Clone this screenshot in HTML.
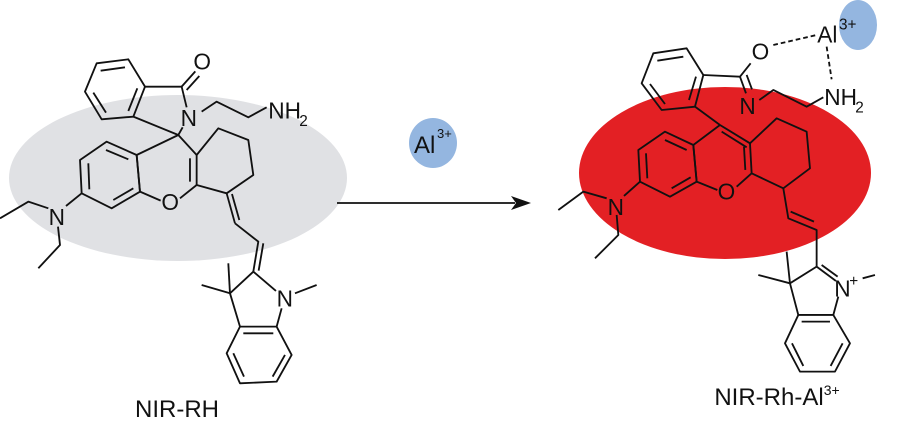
<!DOCTYPE html>
<html><head><meta charset="utf-8"><style>
html,body{margin:0;padding:0;background:#fff;width:900px;height:424px;overflow:hidden}
svg{display:block}
text{font-family:"Liberation Sans",Arial,sans-serif;fill:#111}
</style></head><body>
<svg width="900" height="424" viewBox="0 0 900 424" xmlns="http://www.w3.org/2000/svg">
<ellipse cx="178" cy="178" rx="169" ry="83" fill="#e0e1e4"/>
<ellipse cx="725" cy="173" rx="146" ry="86" fill="#e32024"/>
<ellipse cx="858" cy="25" rx="19" ry="25" fill="#94b6e0"/>
<ellipse cx="433" cy="143" rx="24" ry="25" fill="#94b6e0"/>
<text x="414" y="153" font-size="24">Al</text><text x="437" y="138" font-size="13">3+</text>
<line x1="337" y1="203" x2="515" y2="203" stroke="#111" stroke-width="1.8"/>
<polygon points="531,203 511,196 516,203 511,210" fill="#111"/>

<!-- LEFT -->
<g transform="translate(0,30) scale(0.3333)" fill="none" stroke="#111" stroke-width="5.5" stroke-linejoin="round">
<polygon points="290,100 385,88 435,170 400,260 305,268 255,185"/>
<line x1="302" y1="122" x2="375" y2="112"/><line x1="412" y1="175" x2="385" y2="243"/><line x1="280" y1="188" x2="318" y2="248"/>
<polyline points="435,170 545,170 560,232"/>
<line x1="545" y1="170" x2="586" y2="124"/><line x1="560" y1="180" x2="598" y2="138"/>
<polyline points="548,292 535,315 400,260"/>
<polyline points="605,245 650,215 745,262 800,232"/>
<polygon points="410,375 320,335 240,390 245,490 335,535 420,485"/>
<line x1="318" y1="360" x2="385" y2="388"/><line x1="265" y1="400" x2="268" y2="478"/><line x1="340" y1="510" x2="400" y2="475"/>
<line x1="410" y1="375" x2="420" y2="485"/>
<line x1="535" y1="315" x2="410" y2="375"/><line x1="535" y1="315" x2="590" y2="375"/>
<line x1="420" y1="485" x2="482" y2="512"/><line x1="540" y1="505" x2="590" y2="465"/>
<line x1="590" y1="375" x2="590" y2="465"/><line x1="570" y1="385" x2="570" y2="455"/>
<polyline points="590,375 655,295 745,330 760,435 680,490 590,465"/>
<line x1="680" y1="490" x2="705" y2="580"/><line x1="696" y1="492" x2="718" y2="570"/>
<polyline points="705,580 775,635 760,725"/><line x1="790" y1="640" x2="776" y2="722"/>
<polyline points="760,725 828,783"/><polyline points="760,725 690,790 720,890"/>
<line x1="690" y1="790" x2="685" y2="700"/><line x1="690" y1="790" x2="605" y2="765"/>
<line x1="885" y1="790" x2="950" y2="765"/><line x1="845" y1="835" x2="830" y2="890"/>
<polygon points="720,890 830,890 875,975 830,1055 720,1060 680,970"/>
<line x1="730" y1="910" x2="820" y2="910"/><line x1="855" y1="975" x2="818" y2="1040"/><line x1="700" y1="970" x2="732" y2="1040"/>
<line x1="245" y1="490" x2="198" y2="528"/>
<polyline points="145,535 85,515 0,565"/><polyline points="174,590 180,645 115,715"/>
</g>
<g transform="translate(0,30) scale(0.3333)" font-size="68">
<text x="580" y="118">O</text><text x="542" y="288">N</text>
<text x="805" y="266">NH</text><text x="898" y="288" font-size="46">2</text>
<text x="484" y="540">O</text><text x="146" y="585">N</text><text x="830" y="830">N</text>
</g>
<text x="177" y="417" font-size="24" text-anchor="middle">NIR-RH</text>

<!-- RIGHT -->
<g transform="translate(540,0) scale(0.3333)" fill="none" stroke="#111" stroke-width="5.5" stroke-linejoin="round">
<polygon points="340,160 440,145 490,225 465,320 365,330 305,250"/>
<line x1="352" y1="182" x2="430" y2="170"/><line x1="468" y1="230" x2="447" y2="300"/><line x1="330" y1="252" x2="375" y2="312"/>
<polyline points="490,225 600,230 632,190"/>
<line x1="600" y1="230" x2="618" y2="280"/><line x1="620" y1="225" x2="636" y2="268"/>
<polyline points="658,300 700,270 800,320 850,292"/>
<line x1="700" y1="135" x2="830" y2="105" stroke-dasharray="14,9"/>
<line x1="860" y1="140" x2="875" y2="238" stroke-dasharray="14,9"/>
<line x1="465" y1="320" x2="540" y2="375"/>
<polygon points="460,435 375,395 295,450 300,545 390,590 470,545"/>
<line x1="375" y1="420" x2="440" y2="450"/><line x1="318" y1="460" x2="322" y2="535"/><line x1="395" y1="565" x2="452" y2="532"/>
<line x1="460" y1="435" x2="470" y2="545"/>
<line x1="540" y1="375" x2="460" y2="435"/><line x1="540" y1="375" x2="630" y2="430"/><line x1="545" y1="395" x2="620" y2="442"/>
<line x1="470" y1="545" x2="532" y2="570"/><line x1="590" y1="560" x2="635" y2="520"/>
<line x1="630" y1="430" x2="635" y2="520"/><line x1="612" y1="440" x2="616" y2="510"/>
<polyline points="630,430 710,355 800,395 810,505 730,565 635,520"/>
<polyline points="730,565 745,655 830,690 830,800"/><line x1="752" y1="635" x2="822" y2="665"/>
<line x1="830" y1="800" x2="888" y2="843"/><line x1="845" y1="795" x2="893" y2="830"/>
<polyline points="830,800 750,850 775,945"/>
<line x1="750" y1="850" x2="740" y2="755"/><line x1="750" y1="850" x2="655" y2="825"/>
<line x1="968" y1="835" x2="1005" y2="825"/><line x1="895" y1="890" x2="880" y2="945"/>
<polygon points="775,945 880,945 930,1030 885,1115 780,1115 735,1030"/>
<line x1="785" y1="965" x2="870" y2="965"/><line x1="908" y1="1030" x2="872" y2="1098"/><line x1="756" y1="1030" x2="790" y2="1098"/>
<line x1="300" y1="545" x2="252" y2="588"/>
<polyline points="200,595 130,575 55,630"/><polyline points="230,645 235,705 165,775"/>
</g>
<g transform="translate(540,0) scale(0.3333)" font-size="68">
<text x="635" y="178">O</text><text x="832" y="127">Al</text><text x="897" y="88" font-size="46">3+</text>
<text x="598" y="342">N</text><text x="853" y="315">NH</text><text x="946" y="338" font-size="46">2</text>
<text x="533" y="598">O</text><text x="203" y="645">N</text>
<text x="883" y="890">N</text><text x="928" y="858" font-size="46">+</text>
</g>
<text x="777" y="405" font-size="24" text-anchor="middle">NIR-Rh-Al<tspan font-size="14" dy="-10">3+</tspan></text>
</svg>
</body></html>
